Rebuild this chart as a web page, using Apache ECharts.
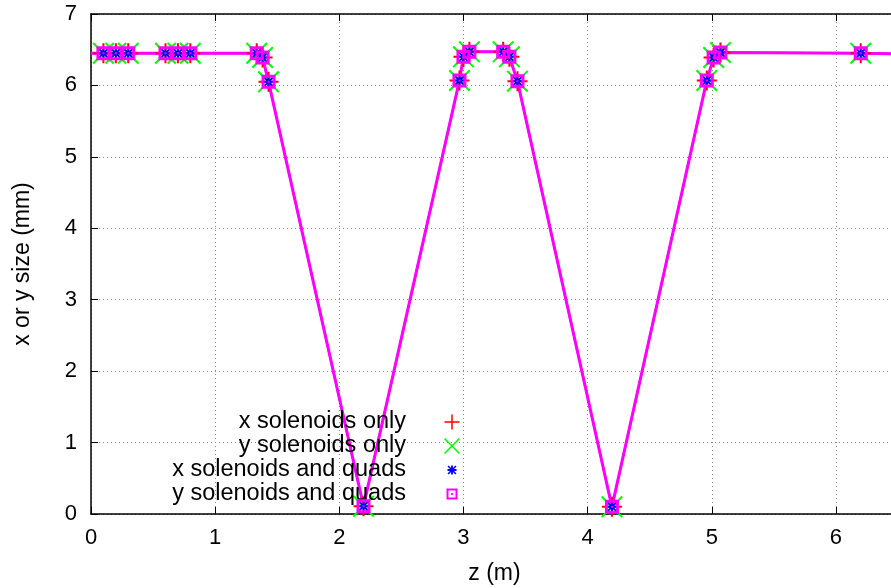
<!DOCTYPE html>
<html>
<head>
<meta charset="utf-8">
<script src="https://cdn.jsdelivr.net/npm/echarts@6/dist/echarts.min.js"></script>
<style>html,body{margin:0;padding:0;background:#fff}#c{width:891px;height:588px}</style>
</head>
<body>
<div id="c"></div>
<script>
// ---- data ----
const markerZ = [0.1, 0.2, 0.3, 0.6, 0.7, 0.8, 1.335, 1.382, 1.43, 2.195, 2.968, 3.0, 3.048, 3.32, 3.37, 3.435, 4.196, 4.96, 5.015, 5.07, 6.2];
const markerY = [6.45, 6.45, 6.45, 6.45, 6.45, 6.45, 6.45, 6.39, 6.05, 0.11, 6.07, 6.40, 6.47, 6.47, 6.40, 6.06, 0.10, 6.07, 6.39, 6.46, 6.45];
const lineZ = [0].concat(markerZ, [6.5]);
const lineY = [6.45].concat(markerY, [6.44]);
const seriesNames = ['x solenoids only', 'y solenoids only', 'x solenoids and quads', 'y solenoids and quads'];
const xTicks = [0, 1, 2, 3, 4, 5, 6];
const yTicks = [0, 1, 2, 3, 4, 5, 6, 7];

// ---- styling ----
const colors = ['#ff0000', '#00ff00', '#0000ff', '#ff00ff'];
const legendSizes = [15, 16, 9, 11];
const plotSizes = [20, 22, 10, 14];
const PLUS = 'path://M6.75,0H8.25V6.75H15V8.25H8.25V15H6.75V8.25H0V6.75H6.75Z';
const CROSS = 'path://M0,1L1,0L15,14L14,15Z M14,0L15,1L1,15L0,14Z';
const STAR = 'path://M4,0H6V4H10V6H6V10H4V6H0V4H4Z M0,1.2L1.2,0L10,8.8L8.8,10Z M8.8,0L10,1.2L1.2,10L0,8.8Z';
const SQDOT = 'path://M0,0H11V11H0Z M2,2V9H9V2Z M4.6,4.6H6.4V6.4H4.6Z';
const SQDOT_PLOT = 'path://M0,0H14V14H0Z M3,3V11H11V3Z M6,6H8V8H6Z';
const legendSymbols = [PLUS, CROSS, STAR, SQDOT];
const plotSymbols = [PLUS, CROSS, STAR, SQDOT_PLOT];
const FONT = 'Liberation Sans';

const pts = markerZ.map((z, i) => [z, markerY[i]]);
const linePts = lineZ.map((z, i) => [z, lineY[i]]);

const rowCenters = [422, 446, 470, 494];
const iconCx = 452;
const textRight = 406;

const series = [{
  type: 'line', name: 'xline', data: linePts, showSymbol: false, symbol: 'none',
  lineStyle: { color: '#0000ff', width: 2 }, z: 1, silent: true, animation: false
}, {
  type: 'line', name: 'yline', data: linePts, showSymbol: false, symbol: 'none',
  lineStyle: { color: '#ff00ff', width: 3 }, z: 1, silent: true, animation: false
}];
seriesNames.forEach((n, i) => {
  series.push({
    type: 'scatter', name: n, data: pts, symbol: plotSymbols[i], symbolSize: plotSizes[i],
    symbolKeepAspect: true, itemStyle: { color: colors[i], opacity: 1 }, z: 2 + i, silent: true, animation: false
  });
});

const legends = seriesNames.map((n, i) => ({
  data: [{ name: n, icon: legendSymbols[i] }],
  orient: 'vertical', align: 'right', selectedMode: false,
  itemWidth: legendSizes[i], itemHeight: 24, padding: 0,
  right: 891 - (iconCx + legendSizes[i] / 2),
  top: rowCenters[i] - 12,
  textStyle: { fontFamily: FONT, fontSize: 23.5, color: '#000', lineHeight: 24,
    padding: [0, iconCx - legendSizes[i] / 2 - 5 - textRight, 0, 0] }
}));

const chart = echarts.init(document.getElementById('c'), null, { renderer: 'canvas' });
chart.setOption({
  animation: false,
  backgroundColor: '#fff',
  grid: { left: 91, top: 14, bottom: 74, width: 807, containLabel: false, outerBoundsMode: 'none' },
  legend: legends,
  xAxis: [{
    type: 'value', min: 0, max: 6.5, interval: 1, position: 'bottom',
    name: 'z (m)', nameLocation: 'middle', nameGap: 48,
    nameTextStyle: { fontFamily: FONT, fontSize: 23, color: '#000' },
    axisLine: { show: true, onZero: false, lineStyle: { color: '#000', width: 1.5 } },
    axisTick: { show: true, inside: true, length: 7, lineStyle: { color: '#000', width: 1 } },
    axisLabel: { fontFamily: FONT, fontSize: 22, color: '#000', margin: 13,
      formatter: v => (xTicks.indexOf(v) >= 0 ? String(v) : '') },
    splitLine: { show: true, lineStyle: { color: '#888', width: 1, type: [1, 3] } }
  }, {
    type: 'value', min: 0, max: 6.5, interval: 1, position: 'top',
    axisLine: { show: true, onZero: false, lineStyle: { color: '#000', width: 1.5 } },
    axisTick: { show: true, inside: true, length: 7, lineStyle: { color: '#000', width: 1 } },
    axisLabel: { show: false }, splitLine: { show: false }
  }],
  yAxis: {
    type: 'value', min: 0, max: 7, interval: 1,
    name: 'x or y size (mm)', nameLocation: 'middle', nameGap: 57, nameRotate: 90,
    nameTextStyle: { fontFamily: FONT, fontSize: 23, color: '#000' },
    axisLine: { show: true, onZero: false, lineStyle: { color: '#000', width: 1.5 } },
    axisTick: { show: true, inside: true, length: 7, lineStyle: { color: '#000', width: 1 } },
    axisLabel: { fontFamily: FONT, fontSize: 22, color: '#000', margin: 14,
      formatter: v => (yTicks.indexOf(v) >= 0 ? String(v) : '') },
    splitLine: { show: true, lineStyle: { color: '#888', width: 1, type: [1, 3] } }
  },
  series: series
});
</script>
</body>
</html>
